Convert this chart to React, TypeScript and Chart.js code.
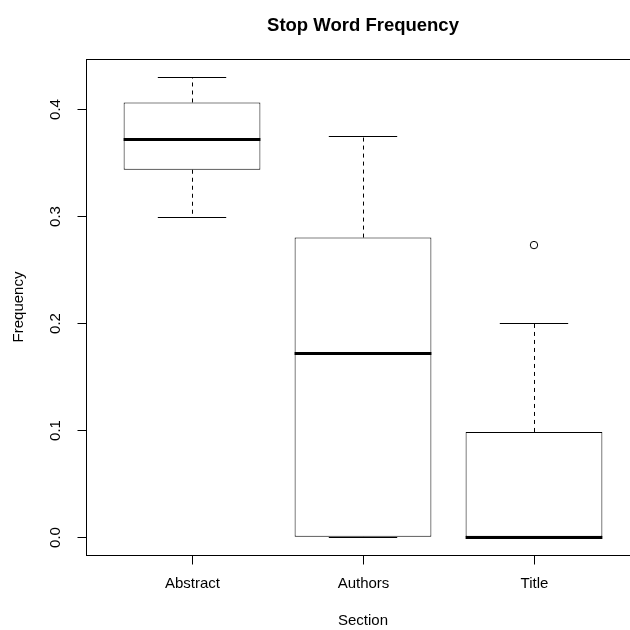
import { useEffect, useRef } from 'react';
import { Chart, registerables } from 'chart.js';

Chart.register(...registerables);

const CATEGORIES = ['Abstract', 'Authors', 'Title'];
const WHISKER_LOW = [0.299, 0, 0];
const Q1 = [0.3435, 0, 0];
const MEDIAN = [0.3725, 0.172, 0];
const Q3 = [0.4065, 0.28, 0.098];
const WHISKER_HIGH = [0.43, 0.3755, 0.2];
const OUTLIER_CATEGORY = [3];
const OUTLIER_VALUE = [0.273];
const Y_TICKS = [0, 0.1, 0.2, 0.3, 0.4];
const Y_TICK_LABELS = ['0.0', '0.1', '0.2', '0.3', '0.4'];
const TITLE = 'Stop Word Frequency';
const X_TITLE = 'Section';
const Y_TITLE = 'Frequency';

const FONT = '"Liberation Sans", Arial, Helvetica, sans-serif';

const boxPlugin = {
  id: 'rBoxplot',
  beforeDatasetsDraw(chart: any) {
    const { ctx, scales } = chart;
    const x = scales.x;
    const y = scales.y;
    ctx.save();
    ctx.strokeStyle = '#000';
    ctx.lineWidth = 1;
    CATEGORIES.forEach((_, i) => {
      const cx = Math.round(x.getPixelForValue(i + 1)) + 0.5;
      const l = x.getPixelForValue(i + 1 - 0.2);
      const r = x.getPixelForValue(i + 1 + 0.2);
      const seg = (x1: number, y1: number, x2: number, y2: number) => {
        ctx.beginPath();
        ctx.moveTo(x1, y1);
        ctx.lineTo(x2, y2);
        ctx.stroke();
      };
      ctx.setLineDash([4, 4]);
      seg(cx, y.getPixelForValue(Q3[i]), cx, y.getPixelForValue(WHISKER_HIGH[i]));
      seg(cx, y.getPixelForValue(Q1[i]), cx, y.getPixelForValue(WHISKER_LOW[i]));
      ctx.setLineDash([]);
      const yh = Math.round(y.getPixelForValue(WHISKER_HIGH[i])) + 0.5;
      const yl = Math.round(y.getPixelForValue(WHISKER_LOW[i])) + 0.5;
      seg(l, yh, r, yh);
      seg(l, yl, r, yl);
    });
    ctx.restore();
  },
  afterDatasetsDraw(chart: any) {
    const { ctx, scales } = chart;
    const x = scales.x;
    const y = scales.y;
    ctx.save();
    ctx.strokeStyle = '#000';
    ctx.lineWidth = 3;
    CATEGORIES.forEach((_, i) => {
      const l = x.getPixelForValue(i + 1 - 0.4);
      const r = x.getPixelForValue(i + 1 + 0.4);
      const ym = Math.round(y.getPixelForValue(MEDIAN[i])) + 0.5;
      ctx.beginPath();
      ctx.moveTo(l, ym);
      ctx.lineTo(r, ym);
      ctx.stroke();
    });
    ctx.restore();
  },
  afterDraw(chart: any) {
    const { ctx, scales, chartArea } = chart;
    const x = scales.x;
    const y = scales.y;
    const { left, top, right, bottom } = chartArea;
    ctx.save();
    ctx.strokeStyle = '#000';
    ctx.fillStyle = '#000';
    ctx.lineWidth = 1;
    ctx.strokeRect(left + 0.5, top + 0.5, right - left, bottom - top);
    const TICK = 9;
    ctx.font = `15px ${FONT}`;
    ctx.textAlign = 'center';
    ctx.textBaseline = 'middle';
    CATEGORIES.forEach((c, i) => {
      const cx = Math.round(x.getPixelForValue(i + 1)) + 0.5;
      ctx.beginPath();
      ctx.moveTo(cx, bottom + 0.5);
      ctx.lineTo(cx, bottom + 0.5 + TICK);
      ctx.stroke();
      ctx.fillText(c, cx, 584);
    });
    Y_TICKS.forEach((v, i) => {
      const ty = Math.round(y.getPixelForValue(v)) + 0.5;
      ctx.beginPath();
      ctx.moveTo(left + 0.5, ty);
      ctx.lineTo(left + 0.5 - TICK, ty);
      ctx.stroke();
      ctx.save();
      ctx.translate(56, ty);
      ctx.rotate(-Math.PI / 2);
      ctx.fillText(Y_TICK_LABELS[i], 0, 0);
      ctx.restore();
    });
    ctx.fillText(X_TITLE, (left + right) / 2, 621);
    ctx.save();
    ctx.translate(19, (top + bottom) / 2);
    ctx.rotate(-Math.PI / 2);
    ctx.fillText(Y_TITLE, 0, 0);
    ctx.restore();
    ctx.font = `bold 18.5px ${FONT}`;
    ctx.fillText(TITLE, (left + right) / 2, 26);
    ctx.restore();
  },
};

export default function App() {
  const ref = useRef<HTMLCanvasElement | null>(null);
  useEffect(() => {
    if (!ref.current) return;
    const chart = new Chart(ref.current, {
      type: 'bar',
      data: {
        datasets: [
          {
            type: 'bar',
            data: CATEGORIES.map((_, i) => ({ x: i + 1, y: [Q1[i], Q3[i]] })) as any,
            backgroundColor: '#ffffff',
            borderColor: '#000000',
            borderWidth: 1,
            borderSkipped: false,
            categoryPercentage: 0.8,
            barPercentage: 1,
            order: 2,
          } as any,
          {
            type: 'scatter',
            data: OUTLIER_CATEGORY.map((c, i) => ({ x: c, y: OUTLIER_VALUE[i] })),
            pointRadius: 3.7,
            pointBorderWidth: 1,
            pointBackgroundColor: 'rgba(0,0,0,0)',
            pointBorderColor: '#000',
            showLine: false,
            order: 1,
          } as any,
        ],
      },
      options: {
        responsive: false,
        animation: false,
        devicePixelRatio: 1,
        layout: { padding: { left: 86, top: 59, right: 10, bottom: 75 } },
        plugins: { legend: { display: false }, tooltip: { enabled: false }, title: { display: false } },
        scales: {
          x: {
            type: 'linear',
            min: 0.38,
            max: 3.62,
            display: false,
            offset: false,
            afterBuildTicks: (s: any) => {
              s.ticks = CATEGORIES.map((_, i) => ({ value: i + 1 }));
            },
          },
          y: { type: 'linear', min: -0.0172, max: 0.4472, display: false },
        },
      } as any,
      plugins: [boxPlugin],
    });
    return () => chart.destroy();
  }, []);
  return (
    <div style={{ position: 'fixed', left: 0, top: 0, width: 630, height: 630, overflow: 'hidden', background: '#fff' }}>
      <canvas ref={ref} width={650} height={630} style={{ width: 650, height: 630, display: 'block' }} />
    </div>
  );
}
